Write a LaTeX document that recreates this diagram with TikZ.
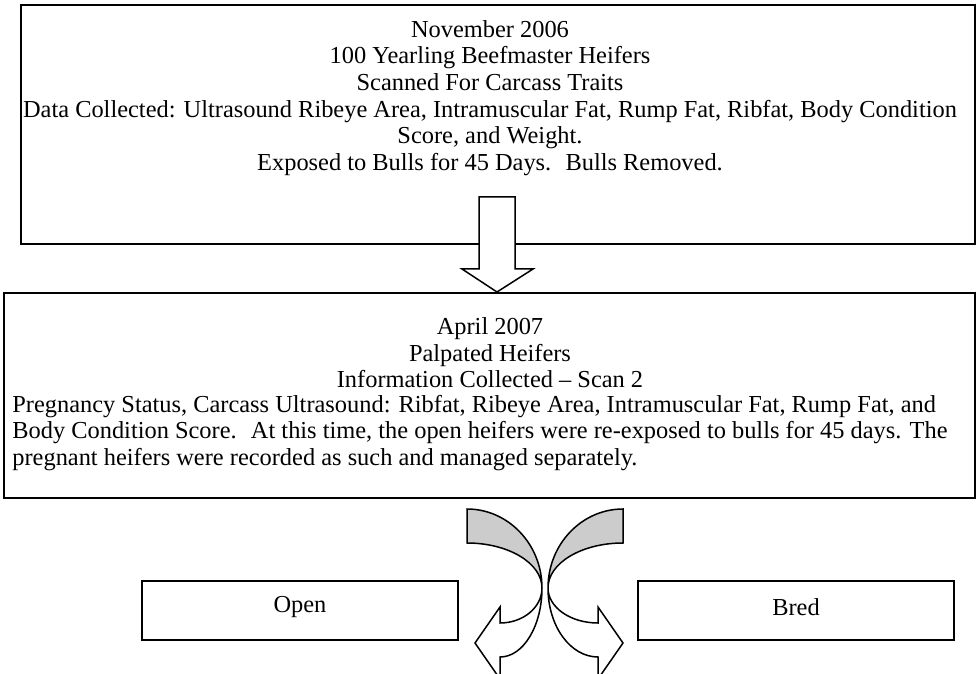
\documentclass[tikz,border=0pt]{standalone}
\usepackage{fontspec}
\setmainfont{Liberation Serif}
\begin{document}
\begin{tikzpicture}[x=0.5pt,y=-0.5pt,
  box/.style={draw, line width=1pt, inner sep=0pt},
  txt/.style={inner sep=0pt, font=\fontsize{12.2pt}{13.35pt}\selectfont},
  blockarrow/.style={draw, line width=0.75pt, fill=white, line join=miter},
  backpart/.style={draw, line width=0.75pt, fill=black!20, line join=miter}]
\useasboundingbox (0,0) rectangle (976,674);
% boxes
\node[box, minimum width=477pt, minimum height=119.5pt] (top) at (498,124.5) {};
\node[box, minimum width=485.5pt, minimum height=102.5pt] (mid) at (489.5,395.5) {};
\node[box, minimum width=158pt, minimum height=29.5pt] (open) at (300,610.5) {};
\node[box, minimum width=158pt, minimum height=29.5pt] (bred) at (796,610.5) {};
% texts
\node[txt, align=center] (toptext) at (490,98) {November 2006\\100 Yearling Beefmaster Heifers\\Scanned For Carcass Traits\\Data Collected: Ultrasound Ribeye Area, Intramuscular Fat, Rump Fat, Ribfat, Body Condition\\Score, and Weight.\\Exposed to Bulls for 45 Days.~ Bulls Removed.};
\node[txt, align=center] (midtitle) at (490,352.7) {April 2007\\Palpated Heifers\\Information Collected -- Scan 2};
\node[txt, align=left, anchor=west] (midbody) at (12,432.8) {Pregnancy Status, Carcass Ultrasound: Ribfat, Ribeye Area, Intramuscular Fat, Rump Fat, and\\Body Condition Score.~ At this time, the open heifers were re-exposed to bulls for 45 days. The\\pregnant heifers were recorded as such and managed separately.};
\node[txt] (opentext) at ([yshift=1.5pt]open.center) {Open};
\node[txt] (bredtext) at ([yshift=1.5pt]bred.center) {Bred};
% down block arrow
\draw[blockarrow] (479,197) -- (515,197) -- (515,269) -- (533,269) -- (497,292) -- (462,269) -- (479,269) -- cycle;
% right curved arrow
\draw[backpart] (623,509) .. controls (581.6,509) and (548,544.4) .. (548,588)
   .. controls (548,563.1) and (581.6,543) .. (623,543) -- cycle;
\draw[blockarrow] (548,588) .. controls (548,626.1) and (570.4,657) .. (598,657)
   -- (598,679) -- (623,643) -- (598,607) -- (598,623)
   .. controls (570.4,623) and (548,607.3) .. (548,588) -- cycle;
% left curved arrow
\draw[backpart] (467,509) .. controls (508.4,509) and (542,544.4) .. (542,588)
   .. controls (542,563.1) and (508.4,543) .. (467,543) -- cycle;
\draw[blockarrow] (542,588) .. controls (542,626.1) and (523.2,657) .. (500,657)
   -- (500,679) -- (475,643) -- (500,607) -- (500,623)
   .. controls (523.2,623) and (542,607.3) .. (542,588) -- cycle;
\end{tikzpicture}
\end{document}
